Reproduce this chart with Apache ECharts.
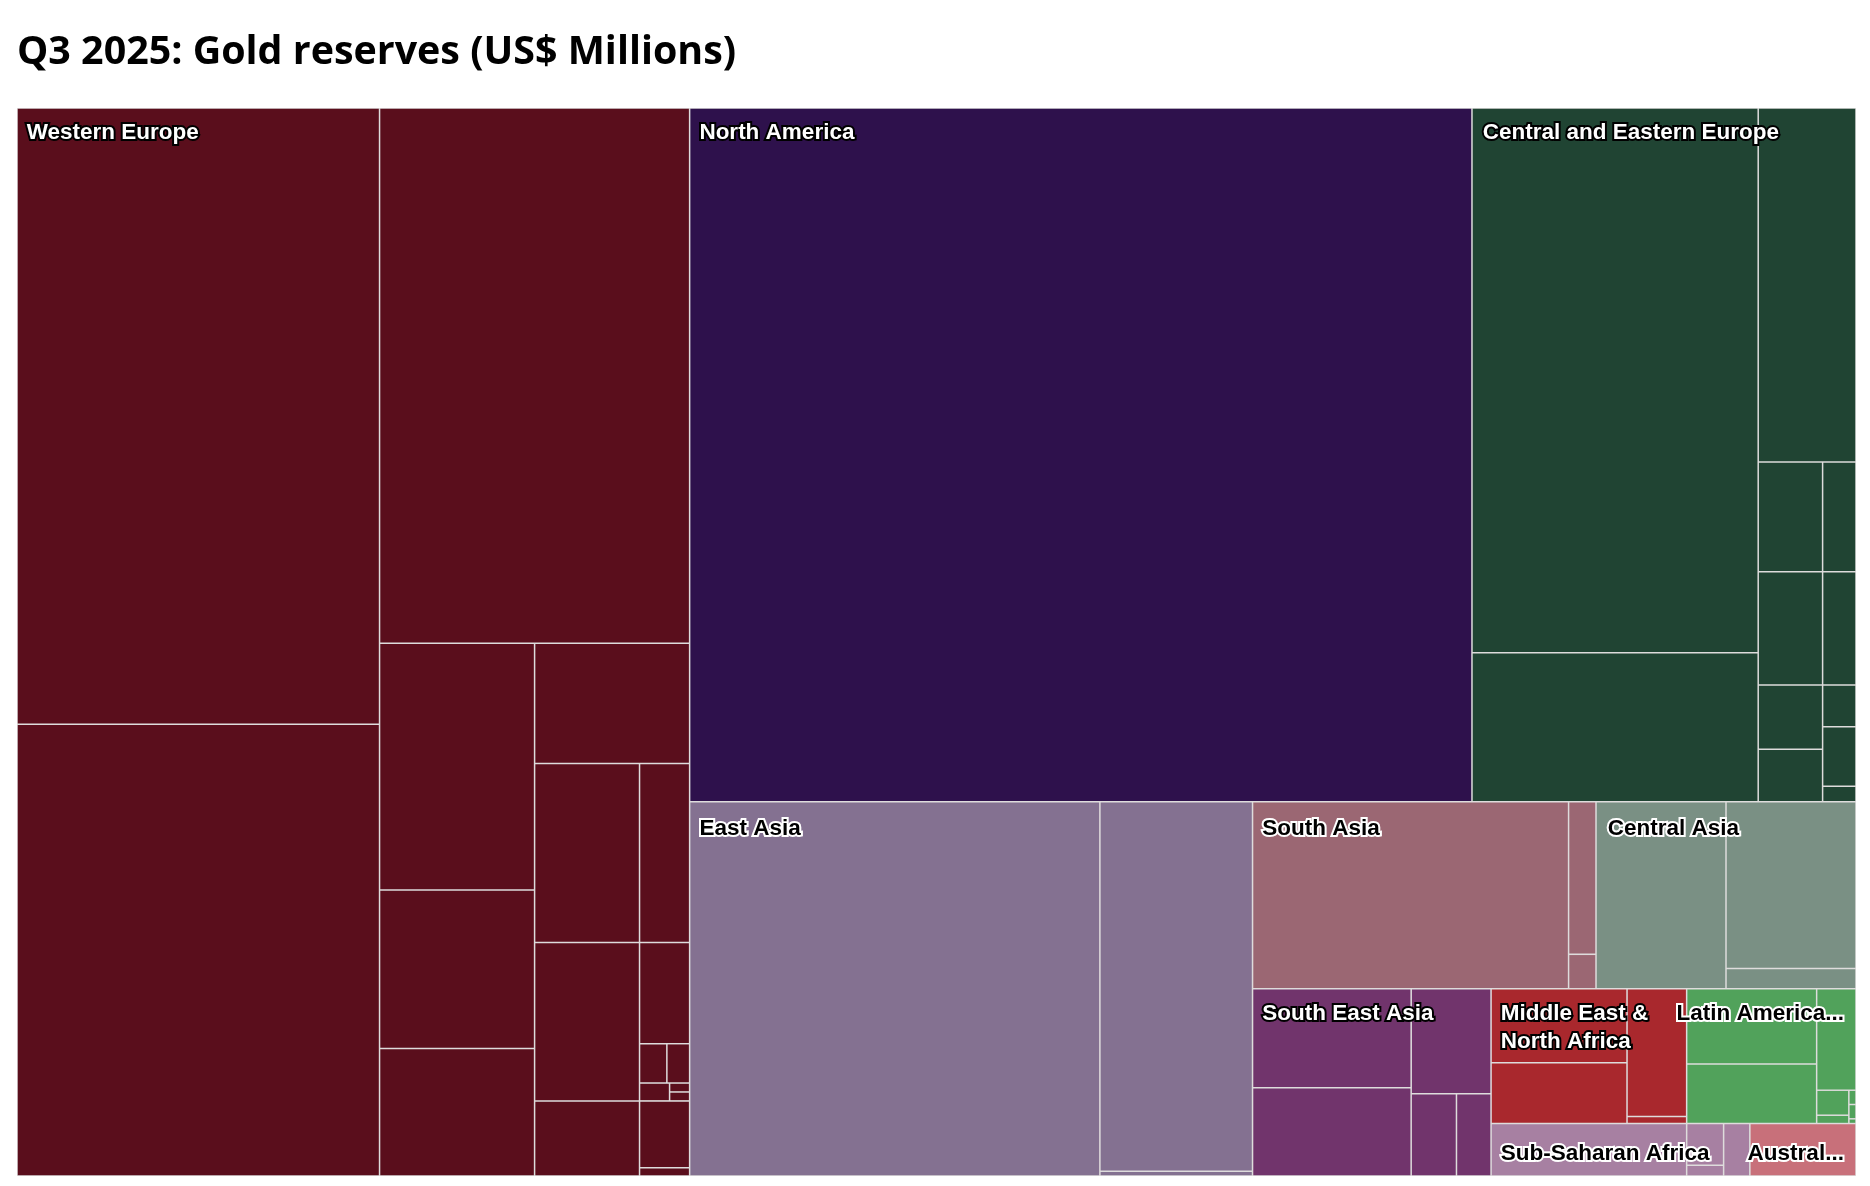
<!DOCTYPE html>
<html>
<head>
<meta charset="utf-8">
<title>Gold reserves</title>
<style>html,body{margin:0;padding:0;background:#fff}#main{width:1870px;height:1186px}</style>
<script src="https://cdn.jsdelivr.net/npm/echarts@6/dist/echarts.min.js"></script>
</head>
<body>
<div id="main"></div>
<script>
// leaf values in US$ millions
const westernEurope = [408637, 299562, 303524, 69966, 44954, 36166, 34138, 34320, 16380, 30430, 9282, 1966, 1638, 983, 328, 328, 14414, 6115, 764]
const northAmerica = [992659]
const centralEurope = [285168, 78000, 63320, 12917, 6698, 13338, 6916, 7582, 6178, 2548, 3640, 946]
const eastAsia = [280842, 103168, 1331]
const southAsia = [108173, 7654, 1734]
const centralAsia = [44494, 39676, 4818]
const southEastAsia = [28701, 25589, 15330, 6817, 5203]
const middleEast = [18377, 15116, 13910, 780]
const latinAmerica = [17854, 14170, 7293, 1474, 491, 187, 187, 62]
const subSaharan = [18762, 2821, 725, 2517]
const australasia = [10182]

const regionColors = {
    we: '#5a0e1c', na: '#2e114c', ce: '#204433', ea: '#847191', sa: '#9b6773', ca: '#7a9084',
    se: '#71346c', me: '#a9282d', la: '#51a25b', ss: '#a780a2', au: '#c8707a'
}

const white = { color: '#fff', textBorderColor: '#000' }
const black = { color: '#000', textBorderColor: '#fff' }

function leaf(values, key, i, text, textStyle, pos) {
    const node = {
        name: text || key + i,
        value: values[i],
        itemStyle: { color: regionColors[key], borderWidth: 0.75 }
    }
    if (text) {
        node.label = Object.assign({ show: true, formatter: text, position: pos || [4, 8] }, textStyle)
    }
    return node
}

// nesting only decides the cuts, a group has no look of its own
const g = (...children) => ({ name: 'g', children })
// a deeper node is drawn later, so its label stays above the neighbours
const lift = node => g(g(g(g(node))))

const W = i => leaf(westernEurope, 'we', i)
const C = i => leaf(centralEurope, 'ce', i)
const E = i => leaf(eastAsia, 'ea', i)
const S = i => leaf(southAsia, 'sa', i)
const A = i => leaf(centralAsia, 'ca', i)
const P = i => leaf(southEastAsia, 'se', i)
const M = i => leaf(middleEast, 'me', i)
const L = i => leaf(latinAmerica, 'la', i)
const F = i => leaf(subSaharan, 'ss', i)

const western = g(
    leaf(westernEurope, 'we', 0, 'Western Europe', white, [4, 5.5]),
    W(1)
)
const westernRight = g(
    W(2),
    g(
        g(W(3), W(4), W(5)),
        g(
            W(6),
            g(
                g(W(7), W(8)),
                g(
                    g(W(9), g(W(10), W(11), W(12), W(13), W(14), W(15))),
                    g(W(16), g(W(17), W(18)))
                )
            )
        )
    )
)

const northAndCentral = g(
    g(
        leaf(northAmerica, 'na', 0, 'North America', white, [4, 5.5]),
        g(leaf(centralEurope, 'ce', 0, 'Central and Eastern Europe', white, [5, 5.5]), C(1))
    ),
    g(
        C(2),
        g(
            g(C(3), C(4)),
            g(
                g(C(5), C(6)),
                g(g(C(7), C(8)), g(C(9), g(C(10), C(11))))
            )
        )
    )
)

const east = g(
    leaf(eastAsia, 'ea', 0, 'East Asia', black),
    g(E(1), E(2))
)

const southAndCentral = g(
    g(
        g(leaf(southAsia, 'sa', 0, 'South Asia', black), g(S(1), S(2))),
        lift(leaf(centralAsia, 'ca', 0, 'Central Asia', black, [6, 8]))
    ),
    g(A(1), A(2))
)

const southEast = g(
    lift(leaf(southEastAsia, 'se', 0, 'South East Asia', white, [4, 5.5])),
    P(1),
    g(P(2), g(P(3), P(4)))
)

const rightLeft = g(
    g(
        lift(leaf(middleEast, 'me', 0, 'Middle East &\nNorth Africa', white, [4, 5.5])),
        M(1),
        g(M(2), M(3))
    ),
    lift(leaf(subSaharan, 'ss', 0, 'Sub-Saharan Africa', black, [4, 10.5]))
)
const rightRight = g(
    g(
        lift(leaf(latinAmerica, 'la', 0, 'Latin America...', black, [-16, 5.5])),
        L(1),
        g(L(2), g(L(3), L(4), g(L(5), L(6), L(7))))
    ),
    g(
        g(F(1), F(2)),
        g(F(3), lift(leaf(australasia, 'au', 0, 'Austral...', black, [-8, 10.5])))
    )
)

const treeData = [
    g(western, westernRight),
    g(
        northAndCentral,
        g(
            east,
            g(southAndCentral, g(southEast, g(rightLeft, rightRight)))
        )
    )
]

const myChart = echarts.init(document.getElementById('main'))

myChart.setOption({
    animation: false,
    title: {
        text: 'Q3 2025: Gold reserves (US$ Millions)',
        left: 17,
        top: 33,
        padding: 0,
        textStyle: { fontFamily: 'Open Sans', fontWeight: 700, fontSize: 39.4, color: '#000' }
    },
    series: [{
        type: 'treemap',
        left: 17,
        top: 108,
        width: 1839,
        height: 1068,
        sort: false,
        squareRatio: 1.72,
        visibleMin: 0,
        roam: false,
        nodeClick: false,
        silent: true,
        breadcrumb: { show: false },
        label: {
            show: false,
            overflow: 'none',
            fontFamily: 'Liberation Sans',
            fontWeight: 700,
            fontSize: 22.5,
            lineHeight: 27.5,
            textBorderWidth: 4
        },
        upperLabel: { show: false },
        itemStyle: { borderWidth: 0, gapWidth: 0, borderColor: '#dedcdc' },
        data: treeData
    }]
})
</script>
</body>
</html>
